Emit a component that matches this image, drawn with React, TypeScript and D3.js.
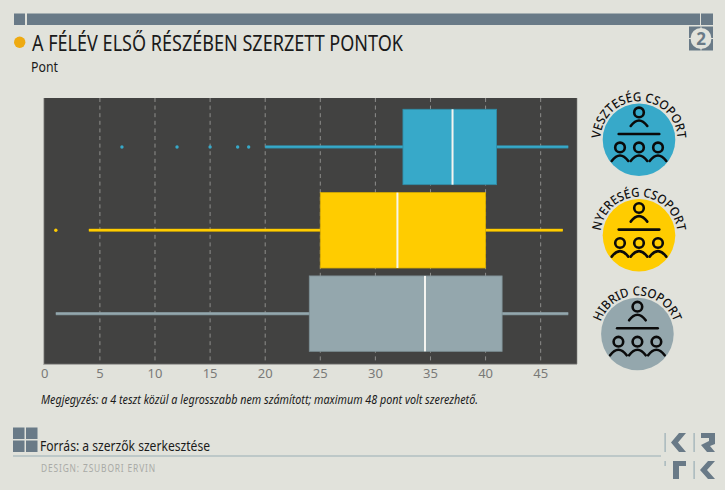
import { useEffect, useRef } from 'react';
import * as d3 from 'd3';

const groups = ['VESZTESÉG CSOPORT', 'NYERESÉG CSOPORT', 'HIBRID CSOPORT'];
const labelWidths = [118, 112, 96];
const q1 = [32.5, 25, 24];
const medians = [37, 32, 34.5];
const q3 = [41, 40, 41.5];
const whiskerLow = [20, 4, 1];
const whiskerHigh = [47.5, 47, 47.5];
const outliers = [[7, 12, 15, 17.5, 18.5], [1], []];
const ticks = [0, 5, 10, 15, 20, 25, 30, 35, 40, 45];
const colors = ['#37a9c9', '#ffcc00', '#94a7ad'];
const strokes = ['#2f8ba5', '#d9ae00', '#7d8f95'];

const BG = '#e1e2db';
const SLATE = '#697a87';
const FONT = '"Noto Sans", sans-serif';

const plot = { left: 44, right: 577, top: 98, bottom: 364 };

const x = d3.scaleLinear().domain([0, 48.35]).range([44.8, 577.6]);
const y = d3
  .scaleBand<string>()
  .domain(groups)
  .range([105.3, 355.3])
  .paddingInner(0.095)
  .paddingOuter(0.0475);

function shoulders(cx: number, cy: number) {
  const p = d3.path();
  p.moveTo(cx - 8.3, cy);
  p.quadraticCurveTo(cx, cy - 11, cx + 8.3, cy);
  return p.toString();
}

function Badge({ cx, cy, color, label, id, width }: { cx: number; cy: number; color: string; label: string; id: string; width: number }) {
  const r = 38.5;
  const arc = d3.path();
  arc.arc(cx, cy, r, Math.PI * 0.85, Math.PI * 2.15);
  return (
    <g>
      <circle cx={cx} cy={cy} r={36.3} fill={color} />
      <path id={id} d={arc.toString()} fill='none' />
      <text fontFamily={FONT} fontSize={12.5} fontWeight={500} fill='#111' textLength={width} lengthAdjust='spacingAndGlyphs'>
        <textPath href={`#${id}`} startOffset='50%' textAnchor='middle' textLength={width} lengthAdjust='spacingAndGlyphs'>
          {label}
        </textPath>
      </text>
      <g fill='none' stroke='#0a0a0a' strokeWidth={2.6} strokeLinecap='round'>
        <circle cx={cx} cy={cy - 27.3} r={4.8} />
        <path d={shoulders(cx, cy - 13.7)} />
        <line x1={cx - 20.3} x2={cx + 20.3} y1={cy - 5.7} y2={cy - 5.7} />
        {[-19, 0, 19].map((dx) => (
          <g key={dx}>
            <circle cx={cx + dx} cy={cy + 7.7} r={4.8} />
            <path d={shoulders(cx + dx, cy + 21.3)} />
          </g>
        ))}
      </g>
    </g>
  );
}

export default function App() {
  const axisRef = useRef<SVGGElement>(null);

  useEffect(() => {
    const g = d3.select(axisRef.current);
    g.selectAll('*').remove();
    g.call(d3.axisBottom(x).tickValues(ticks).tickSize(0).tickPadding(5) as any);
    g.select('.domain').remove();
    g.selectAll('text')
      .attr('fill', '#7a7a78')
      .attr('font-size', 13)
      .attr('font-family', FONT);
  }, []);

  return (
    <svg
      width={725}
      height={490}
      viewBox='0 0 725 490'
      style={{ position: 'absolute', left: 0, top: 0, background: BG }}
    >
      {/* header bar */}
      <rect x={14} y={13.5} width={11} height={11.5} fill={SLATE} />
      <rect x={27} y={13.5} width={673} height={11.5} fill={SLATE} />
      <rect x={701} y={13.5} width={12} height={11.5} fill={SLATE} />
      <rect x={689} y={26.5} width={24} height={24} fill={SLATE} />
      <line x1={689} x2={713} y1={38.5} y2={38.5} stroke={BG} strokeWidth={1} />
      <line x1={701} x2={701} y1={26.5} y2={50.5} stroke={BG} strokeWidth={1} />
      <circle cx={701} cy={38.5} r={10.5} fill={BG} />
      <text x={701} y={44.5} textAnchor='middle' fontFamily={FONT} fontSize={17} fontWeight={700} fill={SLATE}>
        2
      </text>

      {/* title */}
      <circle cx={19.7} cy={42.2} r={5.7} fill='#eeaa11' />
      <text x={32} y={51} fontFamily={FONT} fontSize={21.5} fill='#1a1a1a' textLength={371} lengthAdjust='spacingAndGlyphs'>
        A FÉLÉV ELSŐ RÉSZÉBEN SZERZETT PONTOK
      </text>
      <text x={31} y={71.5} fontFamily={FONT} fontSize={14.5} fill='#1a1a1a' textLength={27} lengthAdjust='spacingAndGlyphs'>
        Pont
      </text>

      {/* plot */}
      <rect x={plot.left} y={plot.top} width={plot.right - plot.left} height={plot.bottom - plot.top} fill='#424241' />
      <line x1={43.7} x2={43.7} y1={plot.top} y2={plot.bottom + 1} stroke='#a9a9a5' strokeWidth={1} />
      <line x1={plot.left} x2={plot.right} y1={plot.bottom + 0.3} y2={plot.bottom + 0.3} stroke='#9a9a97' strokeWidth={1} />
      <line x1={plot.right + 0.3} x2={plot.right + 0.3} y1={plot.top} y2={plot.bottom} stroke='#b5b6b0' strokeWidth={0.8} />
      {ticks.slice(1).map((t) => (
        <line
          key={t}
          x1={x(t)}
          x2={x(t)}
          y1={plot.top}
          y2={plot.bottom}
          stroke='#8e8e8c'
          strokeWidth={1}
          strokeDasharray='4 3.6'
        />
      ))}

      {groups.map((g, i) => {
        const top = y(g)!;
        const h = y.bandwidth();
        const mid = top + h / 2;
        return (
          <g key={g}>
            <line x1={x(whiskerLow[i])} x2={x(whiskerHigh[i])} y1={mid} y2={mid} stroke={strokes[i]} strokeWidth={3} />
            <line x1={x(whiskerLow[i])} x2={x(whiskerHigh[i])} y1={mid - 0.2} y2={mid - 0.2} stroke={colors[i]} strokeWidth={2} />
            <rect
              x={x(q1[i])}
              y={top}
              width={x(q3[i]) - x(q1[i])}
              height={h}
              fill={colors[i]}
              stroke={strokes[i]}
              strokeWidth={0.8}
            />
            <line x1={x(medians[i])} x2={x(medians[i])} y1={top} y2={top + h} stroke='#f4f4f0' strokeWidth={2} />
            {outliers[i].map((v) => (
              <circle key={v} cx={x(v)} cy={mid} r={1.7} fill={colors[i]} />
            ))}
          </g>
        );
      })}

      <g ref={axisRef} transform={`translate(-0.5,${plot.bottom})`} />

      <text
        x={41}
        y={404}
        fontFamily={FONT}
        fontSize={12}
        fontStyle='italic'
        fill='#1a1a1a'
        textLength={437}
        lengthAdjust='spacingAndGlyphs'
      >
        Megjegyzés: a 4 teszt közül a legrosszabb nem számított; maximum 48 pont volt szerezhető.
      </text>

      {/* legend badges */}
      <Badge cx={639} cy={139.7} color={colors[0]} label={groups[0]} id='b0' width={labelWidths[0]} />
      <Badge cx={639} cy={235.3} color={colors[1]} label={groups[1]} id='b1' width={labelWidths[1]} />
      <Badge cx={637.4} cy={334} color={colors[2]} label={groups[2]} id='b2' width={labelWidths[2]} />

      {/* footer */}
      {[0, 1].map((a) =>
        [0, 1].map((b) => (
          <rect key={`${a}${b}`} x={13 + a * 13} y={427.5 + b * 13} width={11.5} height={11.5} fill={SLATE} />
        ))
      )}
      <text x={40} y={451} fontFamily={FONT} fontSize={13.5} fill='#1a1a1a' textLength={170} lengthAdjust='spacingAndGlyphs'>
        Forrás: a szerzők szerkesztése
      </text>
      <line x1={13} x2={661} y1={456} y2={456} stroke='#9aaeb5' strokeWidth={1.2} />
      <text x={41} y={472} fontFamily={FONT} fontSize={10} fill='#a9aaa6' letterSpacing={1} textLength={115} lengthAdjust='spacingAndGlyphs'>
        DESIGN: ZSUBORI ERVIN
      </text>

      {/* logo */}
      <g fill={SLATE}>
        <rect x={664.5} y={433} width={1.2} height={19} fill='#9aaeb5' />
        <polygon points='686,433 679,433 671,442.5 679,452 686,452 678,442.5' />
        <rect x={693.5} y={433} width={1.2} height={19} fill='#9aaeb5' />
        <polygon points='701,433 715,433 715,444 710,446 715,452 707,452 701,445 709,441 709,438 701,438' />
        <rect x={664.5} y={461} width={1.2} height={5} fill='#9aaeb5' />
        <polygon points='673,461 686,461 686,466 679,466 679,479 673,479' />
        <rect x={693.5} y={461} width={1.2} height={18} fill='#9aaeb5' />
        <polygon points='715,461 708,461 700,470 708,479 715,479 707,470' />
      </g>
    </svg>
  );
}
